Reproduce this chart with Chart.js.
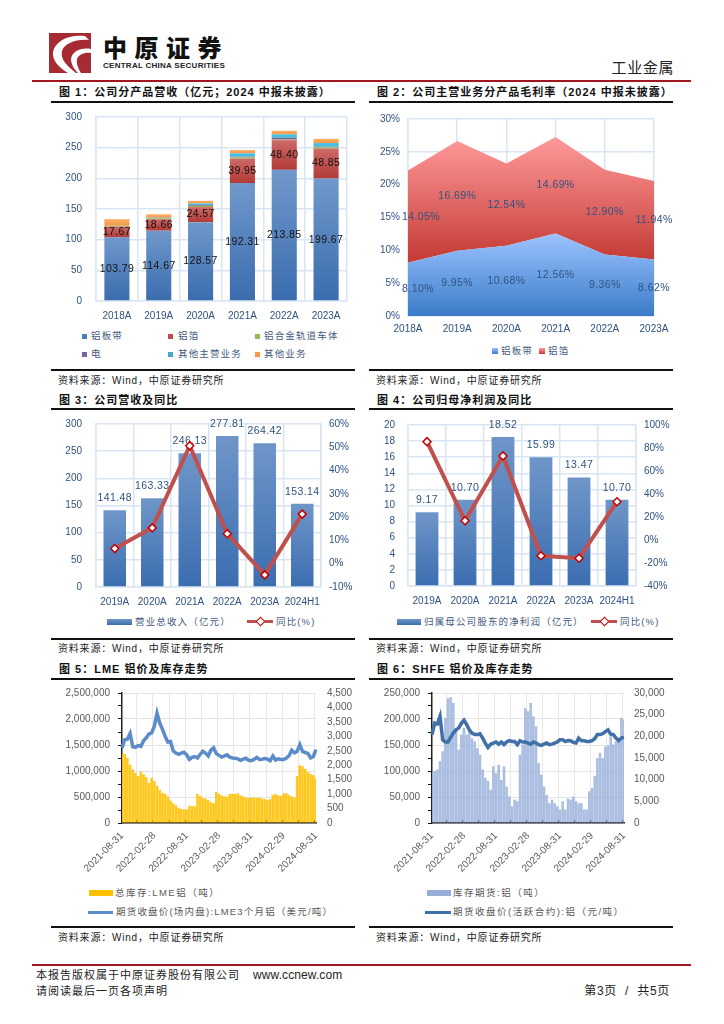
<!DOCTYPE html>
<html lang="zh">
<head>
<meta charset="utf-8">
<title>工业金属</title>
<script src="https://cdn.jsdelivr.net/npm/chart.js@4/dist/chart.umd.min.js"></script>
<style>
    html, body { margin: 0; padding: 0; background: #fff; }
    body { position: relative; width: 724px; height: 1024px; overflow: hidden; font-family: "Liberation Sans", "Noto Sans CJK SC", sans-serif; }
    canvas { position: absolute; }
    .t { position: absolute; white-space: nowrap; transform: translateY(-50%); line-height: 1; }
    .head { font-size: 11px; font-weight: 700; letter-spacing: 1px; color: #111; }
    .src { font-size: 10px; letter-spacing: .8px; color: #222; }
    .leg { font-size: 9.5px; letter-spacing: 1.15px; color: #44597c; }
    .grey { color: #595959; letter-spacing: 1.5px; }
    .rule { position: absolute; height: 2px; width: 304px; background: #111; }
    .red { position: absolute; left: 32px; width: 659px; height: 2px; background: #a3161f; }
    .sw { position: absolute; }
</style>
</head>
<body>

<svg style="position:absolute;left:49px;top:33px" width="42" height="40" viewBox="0 0 42 40">
    <rect width="42" height="40" fill="#a62b33"/>
    <path d="M36 3 C20 1 6 8 4 19 C3 27 9 34 19 40 L27 40 C18 33 11 26 13 18 C15 11 26 6 40 7 Z" fill="#fff"/>
    <path d="M42 16 C31 14 23 19 22 26 C22 31 25 36 29 40 L32 40 C29 35 27 30 28 26 C30 21 36 19 42 20 Z" fill="#fff"/>
</svg>
<div class="t" style="left:103px;top:49px;font-size:24px;font-weight:900;letter-spacing:7.5px;color:#111">中原证券</div>
<div class="t" style="left:103px;top:66px;font-size:8px;font-weight:700;color:#222;letter-spacing:.27px">CENTRAL CHINA SECURITIES</div>
<div class="t" style="right:50px;top:67px;font-size:15px;letter-spacing:.6px;color:#222">工业金属</div>
<div class="red" style="top:80px"></div>

<div class="t head" style="left:59px;top:92px">图 1：公司分产品营收（亿元；2024 中报未披露）</div>
<div class="t head" style="left:377px;top:92px">图 2：公司主营业务分产品毛利率（2024 中报未披露）</div>
<div class="rule" style="left:51px;top:101px"></div>
<div class="rule" style="left:369px;top:101px"></div>

<canvas id="c1" style="left:51px;top:108px"></canvas>
<canvas id="c2" style="left:369px;top:108px"></canvas>

<div class="sw" style="left:82px;top:334px;width:5px;height:5px;background:#4a7ebb"></div>
<div class="t leg" style="left:91px;top:336px">铝板带</div>
<div class="sw" style="left:168px;top:334px;width:5px;height:5px;background:#be4b48"></div>
<div class="t leg" style="left:178px;top:336px">铝箔</div>
<div class="sw" style="left:255px;top:334px;width:5px;height:5px;background:#98b954"></div>
<div class="t leg" style="left:264px;top:336px">铝合金轨道车体</div>
<div class="sw" style="left:82px;top:352px;width:5px;height:5px;background:#7d60a0"></div>
<div class="t leg" style="left:91px;top:354px">电</div>
<div class="sw" style="left:168px;top:352px;width:5px;height:5px;background:#46aac5"></div>
<div class="t leg" style="left:178px;top:354px">其他主营业务</div>
<div class="sw" style="left:255px;top:352px;width:5px;height:5px;background:#f79646"></div>
<div class="t leg" style="left:264px;top:354px">其他业务</div>

<div class="sw" style="left:492px;top:348px;width:6px;height:6px;background:linear-gradient(#9cc3ff,#3b7cc8)"></div>
<div class="t leg" style="left:501px;top:351px">铝板带</div>
<div class="sw" style="left:539px;top:348px;width:6px;height:6px;background:linear-gradient(#ff9a9a,#c63e38)"></div>
<div class="t leg" style="left:548px;top:351px">铝箔</div>

<div class="rule" style="left:51px;top:369px"></div>
<div class="rule" style="left:369px;top:369px"></div>
<div class="t src" style="left:58px;top:381px">资料来源：Wind，中原证券研究所</div>
<div class="t src" style="left:376px;top:381px">资料来源：Wind，中原证券研究所</div>

<div class="t head" style="left:59px;top:400px">图 3：公司营收及同比</div>
<div class="t head" style="left:377px;top:400px">图 4：公司归母净利润及同比</div>
<div class="rule" style="left:51px;top:408px"></div>
<div class="rule" style="left:369px;top:408px"></div>

<canvas id="c3" style="left:51px;top:412px"></canvas>
<canvas id="c4" style="left:369px;top:412px"></canvas>

<div class="sw" style="left:107px;top:619px;width:25px;height:6px;background:linear-gradient(#6f96c9,#3b6db0)"></div>
<div class="t leg" style="left:135px;top:622px">营业总收入（亿元）</div>
<div class="sw" style="left:247px;top:620px;width:26px;height:3px;background:#c0504d"></div>
<div class="sw" style="left:257px;top:618px;width:5px;height:5px;background:#fff;border:1.5px solid #c00000;transform:rotate(45deg)"></div>
<div class="t leg" style="left:276px;top:622px">同比(%)</div>

<div class="sw" style="left:397px;top:619px;width:24px;height:6px;background:linear-gradient(#6f96c9,#3b6db0)"></div>
<div class="t leg" style="left:424px;top:622px">归属母公司股东的净利润（亿元）</div>
<div class="sw" style="left:591px;top:620px;width:26px;height:3px;background:#c0504d"></div>
<div class="sw" style="left:601px;top:618px;width:5px;height:5px;background:#fff;border:1.5px solid #c00000;transform:rotate(45deg)"></div>
<div class="t leg" style="left:620px;top:622px">同比(%)</div>

<div class="rule" style="left:51px;top:638px"></div>
<div class="rule" style="left:369px;top:638px"></div>
<div class="t src" style="left:58px;top:649px">资料来源：Wind，中原证券研究所</div>
<div class="t src" style="left:376px;top:649px">资料来源：Wind，中原证券研究所</div>

<div class="t head" style="left:59px;top:669px">图 5：LME 铝价及库存走势</div>
<div class="t head" style="left:377px;top:669px">图 6：SHFE 铝价及库存走势</div>
<div class="rule" style="left:51px;top:678px"></div>
<div class="rule" style="left:369px;top:678px"></div>

<canvas id="c5" style="left:51px;top:684px"></canvas>
<canvas id="c6" style="left:369px;top:684px"></canvas>

<div class="sw" style="left:89px;top:890px;width:24px;height:6px;background:#ffc000"></div>
<div class="t leg grey" style="left:115px;top:893px">总库存:LME铝（吨）</div>
<div class="sw" style="left:88px;top:911px;width:25px;height:3px;background:#5b8bc9"></div>
<div class="t leg grey" style="left:116px;top:912px;letter-spacing:1.2px">期货收盘价(场内盘):LME3个月铝（美元/吨）</div>
<div class="sw" style="left:427px;top:890px;width:24px;height:6px;background:#98aed6"></div>
<div class="t leg grey" style="left:453px;top:893px">库存期货:铝（吨）</div>
<div class="sw" style="left:425px;top:911px;width:26px;height:3px;background:#3f70a8"></div>
<div class="t leg grey" style="left:453px;top:912px">期货收盘价(活跃合约):铝（元/吨）</div>

<div class="rule" style="left:51px;top:926px"></div>
<div class="rule" style="left:369px;top:926px"></div>
<div class="t src" style="left:58px;top:938px">资料来源：Wind，中原证券研究所</div>
<div class="t src" style="left:376px;top:938px">资料来源：Wind，中原证券研究所</div>

<div class="red" style="top:964px"></div>
<div class="t" style="left:36px;top:975px;font-size:11px;letter-spacing:1px;color:#222">本报告版权属于中原证券股份有限公司</div>
<div class="t" style="left:253px;top:975px;font-size:12px;letter-spacing:.1px;color:#222">www.ccnew.com</div>
<div class="t" style="left:36px;top:991px;font-size:11px;letter-spacing:1px;color:#222">请阅读最后一页各项声明</div>
<div class="t" style="right:54px;top:991px;font-size:12px;letter-spacing:.7px;color:#222;white-space:pre">第3页  /  共5页</div>

<script>
// Figure 1 / 2
const years = ['2018A', '2019A', '2020A', '2021A', '2022A', '2023A'];
const sheet = [103.79, 114.67, 128.57, 192.31, 213.85, 199.67];
const foil = [17.67, 18.66, 24.57, 39.95, 48.40, 48.85];
const railBody = [1.5, 1.5, 2.0, 2.0, 1.0, 2.0];
const power = [0, 0.3, 1.5, 1.0, 3.0, 1.0];
const otherMain = [0, 0.8, 2.5, 5.5, 5.5, 6.0];
const otherBiz = [10.5, 5.5, 4.2, 5.4, 6.0, 6.9];
const sheetMargin = [8.10, 9.95, 10.68, 12.56, 9.36, 8.62];
const foilMargin = [14.05, 16.69, 12.54, 14.69, 12.90, 11.94];

// Figure 3 / 4
const periods = ['2019A', '2020A', '2021A', '2022A', '2023A', '2024H1'];
const revenue = [141.48, 163.33, 246.13, 277.81, 264.42, 153.14];
const revenueYoy = [6.5, 15.4, 50.7, 12.9, -4.8, 21.3];
const profit = [9.17, 10.70, 18.52, 15.99, 13.47, 10.70];
const profitYoy = [85.5, 16.7, 73.1, -13.7, -15.8, 33.3];

// Figure 5 / 6, about two readings per month
const dateTicks = ['2021-08-31', '2022-02-28', '2022-08-31', '2023-02-28', '2023-08-31', '2024-02-29', '2024-08-31'];
const lmeStock = [
    1330000, 1330000, 1250000, 1120000, 1030000, 960000, 900000, 990000, 940000, 880000, 770000, 870000,
    810000, 720000, 640000, 580000, 560000, 510000, 430000, 380000, 340000, 290000, 270000, 260000,
    260000, 330000, 330000, 320000, 560000, 520000, 480000, 470000, 440000, 400000, 380000, 600000,
    560000, 530000, 510000, 510000, 560000, 560000, 560000, 570000, 530000, 510000, 490000, 480000,
    490000, 490000, 480000, 490000, 470000, 460000, 440000, 460000, 540000, 560000, 530000, 520000,
    570000, 570000, 540000, 510000, 490000, 900000, 1110000, 1090000, 1040000, 980000, 940000, 920000,
    860000
];
const lmePrice = [
    2600, 2880, 2900, 3100, 2640, 2620, 2680, 2650, 2850, 2950, 3080, 3120,
    3350, 3800, 3460, 3250, 3000, 2800, 2820, 2500, 2420, 2380, 2420, 2450,
    2360, 2200, 2270, 2300, 2250, 2380, 2480, 2420, 2320, 2520, 2600, 2400,
    2340, 2280, 2320, 2360, 2280, 2250, 2240, 2220, 2170, 2210, 2240, 2170,
    2160, 2200, 2270, 2200, 2210, 2230, 2210, 2160, 2320, 2180, 2220, 2200,
    2200, 2250, 2330, 2520, 2430, 2480, 2710, 2480, 2440, 2410, 2250, 2300,
    2540
];
const shfeStock = [
    99000, 100000, 103000, 119000, 138000, 202000, 240000, 242000, 231000, 183000, 141000, 170000,
    183000, 170000, 179000, 163000, 157000, 144000, 131000, 103000, 87000, 81000, 64000, 109000,
    96000, 112000, 83000, 109000, 70000, 51000, 32000, 45000, 42000, 131000, 151000, 221000,
    215000, 231000, 205000, 186000, 115000, 93000, 70000, 54000, 38000, 45000, 38000, 32000,
    26000, 42000, 26000, 47000, 45000, 51000, 42000, 38000, 38000, 26000, 26000, 61000,
    67000, 90000, 125000, 135000, 125000, 147000, 149000, 167000, 151000, 157000, 163000, 202000,
    199000
];
const shfePrice = [
    20400, 23070, 22840, 24600, 19200, 18700, 18700, 19750, 20760, 21500, 21900, 23000,
    23700, 22700, 21500, 20760, 20400, 20400, 20600, 19600, 18450, 17450, 18200, 18450,
    18700, 18200, 18700, 18100, 18700, 19000, 18800, 18800, 18100, 19000, 18700, 18700,
    18450, 18200, 18700, 18450, 18100, 17900, 18200, 18450, 18100, 18200, 18450, 18700,
    19200, 19200, 18800, 19050, 19000, 18600, 18450, 19600, 19000, 19000, 18800, 18800,
    19000, 19450, 20400, 20400, 20600, 21100, 21500, 20500, 20400, 19600, 19000, 19600,
    19750
];

const NAVY = '#2f5281';
const GRID = '#d9e5f3';
const GREY = '#595959';
const tickFont = { family: '"Liberation Sans"', size: 10 };

Chart.defaults.animation = false;
Chart.defaults.responsive = false;
Chart.defaults.plugins.legend.display = false;
Chart.defaults.plugins.tooltip.enabled = false;

// Keep the plot box where the picture has it, whatever the labels measure
function fixY(width) {
    return axis => { axis.width = width; axis.paddingTop = 0; axis.paddingBottom = 0; };
}
function fixX(height) {
    return axis => { axis.height = height; axis.paddingLeft = 0; axis.paddingRight = 0; };
}

function stackEnds(ctx) {
    const all = ctx.chart.data.datasets;
    let base = 0;
    for (let i = 0; i < ctx.datasetIndex; i++) base += all[i].data[ctx.dataIndex];
    return [base, base + all[ctx.datasetIndex].data[ctx.dataIndex]];
}

// Gradient per bar, top colour to bottom colour
function barFill(top, bottom, stacked) {
    return ctx => {
        const chart = ctx.chart;
        if (!chart.chartArea || ctx.dataIndex === undefined) return bottom;
        const s = chart.scales.y;
        const ends = stacked ? stackEnds(ctx) : [0, ctx.dataset.data[ctx.dataIndex]];
        const g = chart.ctx.createLinearGradient(0, s.getPixelForValue(ends[1]), 0, s.getPixelForValue(ends[0]));
        g.addColorStop(0, top);
        g.addColorStop(1, bottom);
        return g;
    };
}

// Gradient of an area band between two values of the y scale
function areaFill(top, bottom, fromVal, toVal) {
    return ctx => {
        const chart = ctx.chart;
        if (!chart.chartArea) return bottom;
        const s = chart.scales.y;
        const g = chart.ctx.createLinearGradient(0, s.getPixelForValue(toVal), 0, s.getPixelForValue(fromVal));
        g.addColorStop(0, top);
        g.addColorStop(1, bottom);
        return g;
    };
}

// Data labels, drawn right after their own dataset so a line can pass over them
const valueLabels = {
    id: 'valueLabels',
    afterDatasetDraw(chart, args) {
        const ds = chart.data.datasets[args.index];
        const opt = ds.valueLabel;
        if (!opt) return;
        const g = chart.ctx;
        const meta = chart.getDatasetMeta(args.index);
        const s = chart.scales.y;
        g.save();
        g.font = '10.5px "Liberation Sans"';
        g.letterSpacing = '0.4px';
        g.fillStyle = opt.color;
        g.textAlign = 'center';
        g.textBaseline = 'middle';
        meta.data.forEach((el, i) => {
            const v = ds.data[i];
            let y;
            if (opt.mode === 'top') {
                y = s.getPixelForValue(v) - 12;
            } else {
                const ends = stackEnds({ chart, datasetIndex: args.index, dataIndex: i });
                y = s.getPixelForValue((ends[0] + ends[1]) / 2);
            }
            const x = el.x + (i === 0 && opt.firstShift ? opt.firstShift : 0);
            g.fillText(v.toFixed(2) + (opt.suffix || ''), x, y);
        });
        g.restore();
    }
};
Chart.register(valueLabels);

function makeCanvas(id, w, h) {
    const el = document.getElementById(id);
    el.width = w;
    el.height = h;
    el.style.width = w + 'px';
    el.style.height = h + 'px';
    return el;
}

// Figure 1
new Chart(makeCanvas('c1', 304, 217), {
    type: 'bar',
    data: {
        labels: years,
        datasets: [
            { label: '铝板带', data: sheet, backgroundColor: barFill('#7098cb', '#3a6cae', true), valueLabel: { color: '#111' } },
            { label: '铝箔', data: foil, backgroundColor: barFill('#cd6a66', '#b23a36', true), valueLabel: { color: '#111' } },
            { label: '铝合金轨道车体', data: railBody, backgroundColor: '#98b954' },
            { label: '电', data: power, backgroundColor: '#7d60a0' },
            { label: '其他主营业务', data: otherMain, backgroundColor: '#46c0de' },
            { label: '其他业务', data: otherBiz, backgroundColor: barFill('#fbb26a', '#f79646', true) }
        ]
    },
    options: {
        layout: { padding: { left: 0, right: 8, top: 9, bottom: 0 } },
        datasets: { bar: { categoryPercentage: 0.6, barPercentage: 1 } },
        scales: {
            x: {
                stacked: true,
                afterFit: fixX(24),
                grid: { color: GRID, lineWidth: 1.5, drawTicks: false },
                border: { color: GRID, width: 1.5 },
                ticks: { color: NAVY, font: tickFont, padding: 9, maxRotation: 0, autoSkip: false }
            },
            y: {
                stacked: true,
                min: 0, max: 300,
                afterFit: fixY(45),
                grid: { color: GRID, lineWidth: 1.5, drawTicks: false },
                border: { color: GRID, width: 1.5 },
                ticks: { color: NAVY, font: tickFont, stepSize: 50, padding: 14 }
            }
        }
    }
});

// Figure 2
new Chart(makeCanvas('c2', 304, 232), {
    type: 'line',
    data: {
        labels: years,
        datasets: [
            {
                label: '铝板带', data: sheetMargin, fill: 'origin', borderWidth: 0, pointRadius: 0, tension: 0,
                backgroundColor: areaFill('#9cc3ff', '#3b7cc8', 0, 12.56),
                valueLabel: { color: NAVY, suffix: '%', firstShift: 10 }
            },
            {
                label: '铝箔', data: foilMargin, fill: '-1', borderWidth: 0, pointRadius: 0, tension: 0,
                backgroundColor: areaFill('#ff9a9a', '#c63e38', 9, 27.25),
                valueLabel: { color: NAVY, suffix: '%', firstShift: 13 }
            }
        ]
    },
    options: {
        layout: { padding: { left: 0, right: 19, top: 11, bottom: 0 } },
        scales: {
            x: {
                offset: false,
                afterFit: fixX(24),
                grid: { color: GRID, lineWidth: 1.5, drawTicks: false },
                border: { color: GRID, width: 1.5 },
                ticks: { color: NAVY, font: tickFont, padding: 7, maxRotation: 0, autoSkip: false }
            },
            y: {
                stacked: true,
                min: 0, max: 30,
                afterFit: fixY(39),
                grid: { color: GRID, lineWidth: 1.5, drawTicks: false },
                border: { color: GRID, width: 1.5 },
                ticks: { color: NAVY, font: tickFont, stepSize: 5, padding: 8, callback: v => v + '%' }
            }
        }
    }
});

// Figure 3 and 4 share one shape: bars on the left axis, yoy line on the right
function comboChart(id, h, box, labels, barLabel, bars, yoy, left, right) {
    return new Chart(makeCanvas(id, 304, h), {
        data: {
            labels,
            datasets: [
                {
                    type: 'line', label: '同比(%)', data: yoy, yAxisID: 'y1', order: 1, tension: 0,
                    borderColor: '#c0504d', borderWidth: 4,
                    pointStyle: 'rectRot', pointRadius: 4, pointBorderWidth: 1.5,
                    pointBackgroundColor: '#fff', pointBorderColor: '#c00000'
                },
                {
                    type: 'bar', label: barLabel, data: bars, yAxisID: 'y', order: 2,
                    categoryPercentage: 0.6, barPercentage: 1,
                    backgroundColor: barFill('#6f96c9', '#3b6db0', false),
                    valueLabel: { color: NAVY, mode: 'top' }
                }
            ]
        },
        options: {
            layout: { padding: { left: 0, right: 0, top: box.top, bottom: 0 } },
            scales: {
                x: {
                    afterFit: fixX(24),
                    grid: { color: GRID, lineWidth: 1.5, drawTicks: false },
                    border: { color: GRID, width: 1.5 },
                    ticks: { color: NAVY, font: tickFont, padding: 9, maxRotation: 0, autoSkip: false }
                },
                y: {
                    min: left.min, max: left.max,
                    afterFit: fixY(box.left),
                    grid: { color: GRID, lineWidth: 1.5, drawTicks: false },
                    border: { color: GRID, width: 1.5 },
                    ticks: { color: NAVY, font: tickFont, stepSize: left.step, padding: box.leftPad, autoSkip: false }
                },
                y1: {
                    position: 'right',
                    min: right.min, max: right.max,
                    afterFit: fixY(box.right),
                    grid: { drawOnChartArea: false, drawTicks: false },
                    border: { color: GRID, width: 1.5 },
                    ticks: { color: NAVY, font: tickFont, stepSize: right.step, padding: 8, autoSkip: false, callback: v => v + '%' }
                }
            }
        }
    });
}
comboChart('c3', 199, { top: 12, left: 45, right: 34, leftPad: 14 }, periods, '营业总收入（亿元）', revenue, revenueYoy,
    { min: 0, max: 300, step: 50 }, { min: -10, max: 60, step: 10 });
comboChart('c4', 198, { top: 13, left: 39, right: 37, leftPad: 13 }, periods, '归属母公司股东的净利润（亿元）', profit, profitYoy,
    { min: 0, max: 20, step: 2 }, { min: -40, max: 100, step: 20 });

// Figure 5 and 6: stock bars on the left axis, price line on the right
function stockChart(id, box, stock, price, stockLabel, priceLabel, barColor, lineColor, left, right) {
    return new Chart(makeCanvas(id, 304, 190), {
        data: {
            labels: stock.map((_, i) => i),
            datasets: [
                {
                    type: 'line', label: priceLabel, data: price, yAxisID: 'y1', order: 1, tension: 0,
                    borderColor: lineColor, borderWidth: 3.5, pointRadius: 0
                },
                {
                    type: 'bar', label: stockLabel, data: stock, yAxisID: 'y', order: 2,
                    categoryPercentage: 1, barPercentage: 0.96, backgroundColor: barColor
                }
            ]
        },
        options: {
            layout: { padding: { left: 0, right: 0, top: 9, bottom: 0 } },
            scales: {
                x: {
                    offset: false,
                    afterFit: fixX(51),
                    grid: {
                        color: ctx => ctx.index % 6 === 0 ? '#e8e8e8' : 'transparent',
                        tickColor: ctx => ctx.index % 6 === 0 ? '#111' : 'transparent',
                        tickLength: -3
                    },
                    border: { color: '#222', width: 1.5 },
                    ticks: {
                        color: GREY, font: tickFont, padding: 10, autoSkip: false, minRotation: 45, maxRotation: 45,
                        callback: (v, i) => i % 12 === 0 ? dateTicks[i / 12] : ''
                    }
                },
                y: {
                    min: left.min, max: left.max,
                    afterFit: fixY(box.left),
                    grid: {
                        color: ctx => ctx.tick.value % left.step === 0 ? '#e4e4e4' : 'transparent',
                        tickColor: '#111',
                        tickLength: 4
                    },
                    border: { color: '#222', width: 1.5 },
                    ticks: {
                        color: GREY, font: tickFont, stepSize: left.step / 2, padding: box.leftPad, autoSkip: false,
                        callback: v => v % left.step === 0 ? v.toLocaleString('en-US') : ''
                    }
                },
                y1: {
                    position: 'right',
                    min: right.min, max: right.max,
                    afterFit: fixY(box.right),
                    grid: { drawOnChartArea: false, drawTicks: false },
                    border: { display: false },
                    ticks: {
                        color: GREY, font: tickFont, stepSize: right.step, padding: box.rightPad, autoSkip: false,
                        callback: v => v.toLocaleString('en-US')
                    }
                }
            }
        }
    });
}
stockChart('c5', { left: 71, right: 39, leftPad: 8, rightPad: 11 }, lmeStock, lmePrice,
    '总库存:LME铝（吨）', '期货收盘价(场内盘):LME3个月铝（美元/吨）', 'rgba(255,192,0,0.88)', '#5b8bc9',
    { min: 0, max: 2500000, step: 500000 }, { min: 0, max: 4500, step: 500 });
stockChart('c6', { left: 63, right: 49, leftPad: 8, rightPad: 10 }, shfeStock, shfePrice,
    '库存期货:铝（吨）', '期货收盘价(活跃合约):铝（元/吨）', 'rgba(150,174,218,0.8)', '#3f70a8',
    { min: 0, max: 250000, step: 50000 }, { min: 0, max: 30000, step: 5000 });
</script>
</body>
</html>
